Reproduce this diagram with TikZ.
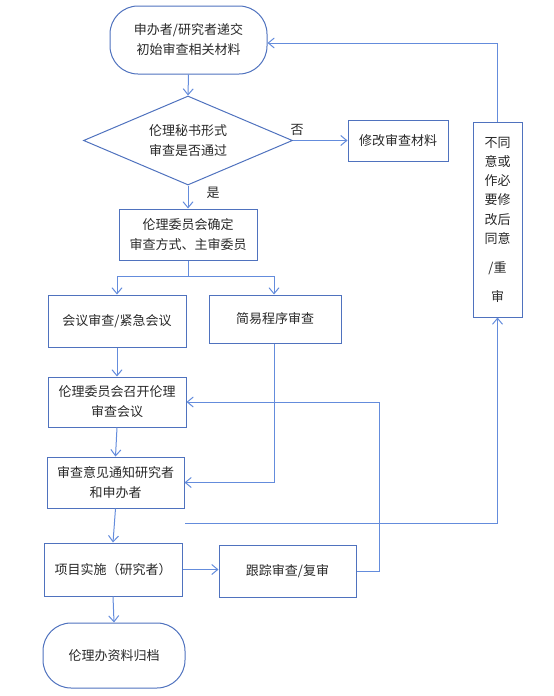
\documentclass[tikz,border=0pt]{standalone}
\usepackage{fontspec}
\setmainfont{Noto Sans CJK SC}
\usetikzlibrary{shapes.geometric,arrows.meta}
\definecolor{boxc}{RGB}{79,114,190}
\definecolor{linec}{RGB}{100,140,220}
\definecolor{txtc}{RGB}{40,40,40}
\begin{document}
\begin{tikzpicture}[x=1pt,y=-1pt,
  every node/.style={font=\fontsize{13}{20}\selectfont, text=txtc, align=center},
  box/.style={draw=boxc, line width=1pt, rectangle, inner sep=0pt},
  term/.style={box, rounded corners=28pt},
  dec/.style={draw=boxc, line width=1pt, diamond, aspect=2.35, inner sep=0pt},
  conn/.style={draw=linec, line width=1pt},
  arr/.style={conn, -{Straight Barb[length=6pt,width=10pt]}},
  lbl/.style={font=\fontsize{13}{14}\selectfont}
]
\useasboundingbox (0,0) rectangle (554,696);
\node[term, minimum width=157pt, minimum height=68pt] (start) at (188.5,40) {申办者/研究者递交\\初始审查相关材料};
\node[dec, minimum width=209pt, minimum height=89pt] (dec) at (188,140.5) {伦理秘书形式\\审查是否通过};
\node[box, minimum width=100pt, minimum height=41pt] (modify) at (398,140.5) {修改审查材料};
\node[box, minimum width=138pt, minimum height=51pt] (confirm) at (188,234.5) {伦理委员会确定\\审查方式、主审委员};
\node[box, minimum width=138pt, minimum height=52pt] (meeting) at (117,321) {会议审查/紧急会议};
\node[box, minimum width=132pt, minimum height=48pt] (simple) at (275,319) {简易程序审查};
\node[box, minimum width=138pt, minimum height=50pt] (convene) at (117,402) {伦理委员会召开伦理\\审查会议};
\node[box, minimum width=137pt, minimum height=51pt] (notify) at (115.5,482.5) {审查意见通知研究者\\和申办者};
\node[box, minimum width=138pt, minimum height=53pt] (impl) at (113,569.5) {项目实施（研究者）};
\node[box, minimum width=137pt, minimum height=52pt] (track) at (287.5,571) {跟踪审查/复审};
\node[term, minimum width=142pt, minimum height=65pt] (archive) at (114,655.5) {伦理办资料归档};
\node[box, minimum width=49pt, minimum height=195pt, font=\fontsize{13}{19.3}\selectfont] (right) at (497.5,219.5) {不同\\意或\\作必\\要修\\改后\\同意\\[9.5pt]/重\\[9.5pt]审};
\node[lbl] (no) at (297,130) {否};
\node[lbl] (yes) at (213,193) {是};
\coordinate (split) at (188,276.5);
\coordinate (fb) at (185,523);
\draw[arr] (start.south) -- (dec.north);
\draw[arr] (dec.east) -- (modify.west);
\draw[arr] (dec.south) -- (confirm.north);
\draw[conn] (confirm.south) -- (split);
\draw[arr] (split) -| (meeting.north);
\draw[arr] (split) -| ([xshift=-1pt]simple.north);
\draw[arr] (meeting.south) -- (convene.north);
\draw[arr] (convene.south) -- (notify.north);
\draw[arr] ([xshift=-1pt]simple.south) |- (notify.east);
\draw[arr] (notify.south) -- (impl.north);
\draw[arr] (fb) -| (right.south);
\draw[arr] (right.north) |- ([yshift=-3pt]start.east);
\draw[arr] (impl.east) -- (impl.east -| track.west);
\draw[arr] (track.east) -- ++(23,0) |- (convene.east);
\draw[arr] (impl.south) -- (archive.north);
\end{tikzpicture}
\end{document}
